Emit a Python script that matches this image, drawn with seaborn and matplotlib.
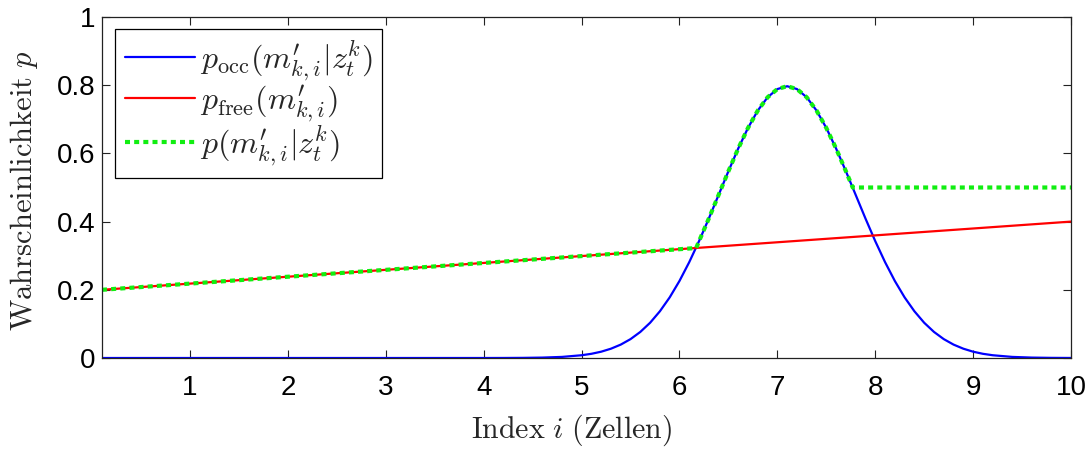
import numpy as np
import pandas as pd
import matplotlib
matplotlib.use('Agg')
import matplotlib.pyplot as plt
import seaborn as sns

# ------------------------------------------------------------------ #
# Data
# ------------------------------------------------------------------ #
occ_x = [0.1, 4.0, 4.2, 4.4, 4.6, 4.8, 5.0, 5.1, 5.2, 5.3, 5.4, 5.5, 5.6,
         5.7, 5.8, 5.9, 6.0, 6.1, 6.2, 6.3, 6.4, 6.5, 6.6, 6.7, 6.8, 6.9,
         7.0, 7.1, 7.2, 7.3, 7.4, 7.5, 7.6, 7.7, 7.8, 7.9, 8.0, 8.1, 8.2,
         8.3, 8.4, 8.5, 8.6, 8.7, 8.8, 8.9, 9.0, 9.1, 9.2, 9.4, 9.6, 9.8,
         10.0]
occ_p = [0.0, 0.0, 0.0001, 0.0004, 0.0012, 0.0032, 0.0081, 0.0123, 0.0185,
         0.0273, 0.0393, 0.0554, 0.0765, 0.1034, 0.1371, 0.1778, 0.2260,
         0.2813, 0.3428, 0.4092, 0.4784, 0.5478, 0.6143, 0.6747, 0.7257,
         0.7645, 0.7887, 0.7970, 0.7887, 0.7645, 0.7257, 0.6747, 0.6143,
         0.5478, 0.4784, 0.4092, 0.3428, 0.2813, 0.2260, 0.1778, 0.1371,
         0.1034, 0.0765, 0.0554, 0.0393, 0.0273, 0.0185, 0.0123, 0.0081,
         0.0032, 0.0012, 0.0004, 0.0001]

free_x = [0.1, 10.0]
free_p = [0.2, 0.4]

comb_x = [0.1, 6.17, 6.2, 6.3, 6.4, 6.5, 6.6, 6.7, 6.8, 6.9, 7.0, 7.1,
          7.2, 7.3, 7.4, 7.5, 7.6, 7.7, 7.77, 10.0]
comb_p = [0.2, 0.3225, 0.3428, 0.4092, 0.4784, 0.5478, 0.6143, 0.6747,
          0.7257, 0.7645, 0.7887, 0.7970, 0.7887, 0.7645, 0.7257, 0.6747,
          0.6143, 0.5478, 0.50, 0.50]

x_ticks = [1, 2, 3, 4, 5, 6, 7, 8, 9, 10]
y_ticks = [0, 0.2, 0.4, 0.6, 0.8, 1]
y_tick_labels = ['0', '0.2', '0.4', '0.6', '0.8', '1']

# ------------------------------------------------------------------ #
# Style
# ------------------------------------------------------------------ #
sns.set_style('ticks')
plt.rcParams['font.family'] = ['Liberation Sans', 'DejaVu Sans']
plt.rcParams['mathtext.fontset'] = 'cm'

fig = plt.figure(figsize=(10.92, 4.5), dpi=100)
ax = fig.add_axes([102 / 1092, 92 / 450, 969 / 1092, 341 / 450])

occ = pd.DataFrame({'i': occ_x, 'p': occ_p})
free = pd.DataFrame({'i': free_x, 'p': free_p})
comb = pd.DataFrame({'i': comb_x, 'p': comb_p})

sns.lineplot(data=occ, x='i', y='p', ax=ax, color='#0000ff', lw=1.6,
             estimator=None, label=r'$p_{\mathrm{occ}}(m^{\prime}_{k,i}|z^k_t)$')
sns.lineplot(data=free, x='i', y='p', ax=ax, color='#ff0000', lw=1.6,
             estimator=None, label=r'$p_{\mathrm{free}}(m^{\prime}_{k,i})$')
sns.lineplot(data=comb, x='i', y='p', ax=ax, color='#11ee11', lw=3.0,
             estimator=None, dashes=False,
             label=r'$p(m^{\prime}_{k,i}|z^k_t)$')
comb_line = ax.lines[-1]
comb_line.set_dashes((1.2, 1.0))
comb_line.set_dash_capstyle('butt')

ax.set_xlim(0.1, 10)
ax.set_ylim(0, 1)
ax.set_xticks(x_ticks)
ax.set_yticks(y_ticks)
ax.set_yticklabels(y_tick_labels)
ax.tick_params(direction='in', top=True, right=True, length=6, width=0.8,
               labelsize=20, colors='#222222', labelcolor='black')
ax.tick_params(axis='x', pad=12)
ax.tick_params(axis='y', pad=5)
for s in ax.spines.values():
    s.set_visible(True)
    s.set_linewidth(0.9)
    s.set_color('#222222')

ax.set_xlabel(r'$\mathrm{Index}\ i\ \mathrm{(Zellen)}$', fontsize=21.5)
ax.set_ylabel(r'$\mathrm{Wahrscheinlichkeit}\ p$', fontsize=22)
ax.xaxis.set_label_coords(0.484, -0.16)
ax.yaxis.set_label_coords(-0.064, 0.49)

leg = ax.legend(loc='upper left', bbox_to_anchor=(13 / 969, 1 - 12 / 341),
                borderaxespad=0, fontsize=23, handlelength=2.2,
                handletextpad=0.15, labelspacing=0.0, borderpad=0.3,
                fancybox=False, framealpha=1, edgecolor='black')
leg.get_frame().set_linewidth(0.9)

fig.savefig('out.png', dpi=100)
